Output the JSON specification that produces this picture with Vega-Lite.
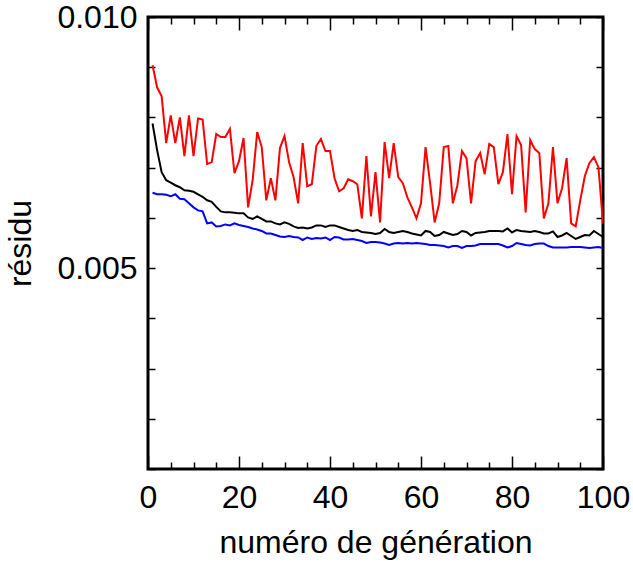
{
  "$schema": "https://vega.github.io/schema/vega-lite/v6.json",
  "width": 455,
  "height": 452,
  "autosize": "none",
  "padding": {"left": 148, "top": 17, "right": 30, "bottom": 99},
  "background": "white",
  "config": {
    "view": {"stroke": "black", "strokeWidth": 3},
    "axis": {
      "labelFont": "Liberation Sans",
      "titleFont": "Liberation Sans",
      "labelFontSize": 32,
      "titleFontSize": 32,
      "titleFontWeight": "normal",
      "labelColor": "black",
      "titleColor": "black",
      "tickColor": "black",
      "tickWidth": 1.5,
      "domain": false,
      "grid": false
    }
  },
  "data": {"values": [
    {"g":1,"r":0.00904,"k":0.00788,"b":0.00650},{"g":2,"r":0.00860,"k":0.00735,"b":0.00647},{"g":3,"r":0.00842,"k":0.00691,"b":0.00647},{"g":4,"r":0.00749,"k":0.00675,"b":0.00646},{"g":5,"r":0.00804,"k":0.00670,"b":0.00643},{"g":6,"r":0.00749,"k":0.00665,"b":0.00647},{"g":7,"r":0.00800,"k":0.00661,"b":0.00638},{"g":8,"r":0.00723,"k":0.00655,"b":0.00637},{"g":9,"r":0.00804,"k":0.00654,"b":0.00629},{"g":10,"r":0.00723,"k":0.00652,"b":0.00621},
    {"g":11,"r":0.00798,"k":0.00647,"b":0.00615},{"g":12,"r":0.00796,"k":0.00642,"b":0.00613},{"g":13,"r":0.00707,"k":0.00635,"b":0.00589},{"g":14,"r":0.00711,"k":0.00632,"b":0.00591},{"g":15,"r":0.00767,"k":0.00622,"b":0.00583},{"g":16,"r":0.00761,"k":0.00613,"b":0.00584},{"g":17,"r":0.00761,"k":0.00611,"b":0.00587},{"g":18,"r":0.00777,"k":0.00611,"b":0.00585},{"g":19,"r":0.00689,"k":0.00610,"b":0.00589},{"g":20,"r":0.00713,"k":0.00609,"b":0.00586},
    {"g":21,"r":0.00759,"k":0.00609,"b":0.00584},{"g":22,"r":0.00621,"k":0.00601,"b":0.00582},{"g":23,"r":0.00675,"k":0.00598,"b":0.00579},{"g":24,"r":0.00771,"k":0.00603,"b":0.00577},{"g":25,"r":0.00741,"k":0.00598,"b":0.00574},{"g":26,"r":0.00635,"k":0.00593,"b":0.00569},{"g":27,"r":0.00679,"k":0.00593,"b":0.00569},{"g":28,"r":0.00635,"k":0.00589,"b":0.00566},{"g":29,"r":0.00739,"k":0.00587,"b":0.00563},{"g":30,"r":0.00763,"k":0.00591,"b":0.00562},
    {"g":31,"r":0.00711,"k":0.00588,"b":0.00564},{"g":32,"r":0.00681,"k":0.00583,"b":0.00562},{"g":33,"r":0.00629,"k":0.00580,"b":0.00561},{"g":34,"r":0.00749,"k":0.00581,"b":0.00556},{"g":35,"r":0.00663,"k":0.00579,"b":0.00561},{"g":36,"r":0.00667,"k":0.00581,"b":0.00558},{"g":37,"r":0.00743,"k":0.00585,"b":0.00560},{"g":38,"r":0.00757,"k":0.00585,"b":0.00559},{"g":39,"r":0.00733,"k":0.00582,"b":0.00561},{"g":40,"r":0.00733,"k":0.00585,"b":0.00556},
    {"g":41,"r":0.00679,"k":0.00585,"b":0.00562},{"g":42,"r":0.00653,"k":0.00582,"b":0.00561},{"g":43,"r":0.00659,"k":0.00579,"b":0.00557},{"g":44,"r":0.00677,"k":0.00576,"b":0.00557},{"g":45,"r":0.00673,"k":0.00574,"b":0.00558},{"g":46,"r":0.00667,"k":0.00576,"b":0.00556},{"g":47,"r":0.00599,"k":0.00572,"b":0.00554},{"g":48,"r":0.00723,"k":0.00571,"b":0.00550},{"g":49,"r":0.00603,"k":0.00570,"b":0.00552},{"g":50,"r":0.00691,"k":0.00568,"b":0.00552},
    {"g":51,"r":0.00591,"k":0.00570,"b":0.00551},{"g":52,"r":0.00751,"k":0.00578,"b":0.00549},{"g":53,"r":0.00679,"k":0.00572,"b":0.00546},{"g":54,"r":0.00749,"k":0.00570,"b":0.00549},{"g":55,"r":0.00681,"k":0.00572,"b":0.00550},{"g":56,"r":0.00669,"k":0.00574,"b":0.00549},{"g":57,"r":0.00641,"k":0.00572,"b":0.00550},{"g":58,"r":0.00621,"k":0.00569,"b":0.00549},{"g":59,"r":0.00599,"k":0.00567,"b":0.00550},{"g":60,"r":0.00629,"k":0.00565,"b":0.00549},
    {"g":61,"r":0.00741,"k":0.00574,"b":0.00548},{"g":62,"r":0.00669,"k":0.00572,"b":0.00546},{"g":63,"r":0.00591,"k":0.00564,"b":0.00546},{"g":64,"r":0.00629,"k":0.00566,"b":0.00545},{"g":65,"r":0.00741,"k":0.00572,"b":0.00544},{"g":66,"r":0.00743,"k":0.00569,"b":0.00541},{"g":67,"r":0.00629,"k":0.00566,"b":0.00544},{"g":68,"r":0.00665,"k":0.00568,"b":0.00544},{"g":69,"r":0.00733,"k":0.00574,"b":0.00540},{"g":70,"r":0.00719,"k":0.00572,"b":0.00544},
    {"g":71,"r":0.00629,"k":0.00565,"b":0.00544},{"g":72,"r":0.00713,"k":0.00570,"b":0.00545},{"g":73,"r":0.00729,"k":0.00571,"b":0.00548},{"g":74,"r":0.00687,"k":0.00572,"b":0.00548},{"g":75,"r":0.00747,"k":0.00574,"b":0.00548},{"g":76,"r":0.00741,"k":0.00574,"b":0.00548},{"g":77,"r":0.00667,"k":0.00574,"b":0.00548},{"g":78,"r":0.00691,"k":0.00573,"b":0.00545},{"g":79,"r":0.00767,"k":0.00579,"b":0.00541},{"g":80,"r":0.00647,"k":0.00571,"b":0.00544},
    {"g":81,"r":0.00763,"k":0.00576,"b":0.00550},{"g":82,"r":0.00745,"k":0.00574,"b":0.00548},{"g":83,"r":0.00611,"k":0.00573,"b":0.00546},{"g":84,"r":0.00755,"k":0.00572,"b":0.00545},{"g":85,"r":0.00737,"k":0.00574,"b":0.00548},{"g":86,"r":0.00729,"k":0.00572,"b":0.00549},{"g":87,"r":0.00599,"k":0.00569,"b":0.00549},{"g":88,"r":0.00629,"k":0.00569,"b":0.00544},{"g":89,"r":0.00741,"k":0.00573,"b":0.00541},{"g":90,"r":0.00629,"k":0.00562,"b":0.00541},
    {"g":91,"r":0.00659,"k":0.00565,"b":0.00541},{"g":92,"r":0.00719,"k":0.00570,"b":0.00541},{"g":93,"r":0.00589,"k":0.00564,"b":0.00542},{"g":94,"r":0.00583,"k":0.00558,"b":0.00542},{"g":95,"r":0.00635,"k":0.00562,"b":0.00542},{"g":96,"r":0.00683,"k":0.00566,"b":0.00541},{"g":97,"r":0.00709,"k":0.00565,"b":0.00540},{"g":98,"r":0.00721,"k":0.00574,"b":0.00541},{"g":99,"r":0.00701,"k":0.00568,"b":0.00542},{"g":100,"r":0.00589,"k":0.00562,"b":0.00540}
  ]},
  "layer": [
    {
      "mark": {"type": "line", "color": "#ff0000", "strokeWidth": 2, "clip": true},
      "encoding": {
        "x": {"field": "g", "type": "quantitative",
          "scale": {"domain": [0, 100], "nice": false, "zero": false},
          "axis": {"orient": "bottom", "values": [0, 20, 40, 60, 80, 100], "ticks": false, "labelPadding": 13, "labelFlush": false, "title": "numéro de génération", "titlePadding": 14}},
        "y": {"field": "r", "type": "quantitative",
          "scale": {"domain": [0.001, 0.01], "nice": false, "zero": false},
          "axis": {"orient": "left", "values": [0.005, 0.01], "format": ".3f", "ticks": false, "labelPadding": 11, "labelFlush": false, "title": "résidu", "titlePadding": 19}}
      }
    },
    {
      "mark": {"type": "line", "color": "#000000", "strokeWidth": 2, "clip": true},
      "encoding": {
        "x": {"field": "g", "type": "quantitative",
          "axis": {"orient": "bottom", "values": [0,5,10,15,20,25,30,35,40,45,50,55,60,65,70,75,80,85,90,95,100], "labels": false, "title": null,
            "tickSize": {"condition": {"test": "datum.value % 20 === 0", "value": -13}, "value": -7}}},
        "y": {"field": "k", "type": "quantitative",
          "axis": {"orient": "left", "values": [0.001,0.002,0.003,0.004,0.005,0.006,0.007,0.008,0.009,0.01], "labels": false, "title": null, "tickSize": -7}}
      }
    },
    {
      "mark": {"type": "line", "color": "#0000ff", "strokeWidth": 2, "clip": true},
      "encoding": {
        "x": {"field": "g", "type": "quantitative",
          "axis": {"orient": "top", "values": [0,5,10,15,20,25,30,35,40,45,50,55,60,65,70,75,80,85,90,95,100], "labels": false, "title": null,
            "tickSize": {"condition": {"test": "datum.value % 20 === 0", "value": -13}, "value": -7}}},
        "y": {"field": "b", "type": "quantitative",
          "axis": {"orient": "right", "values": [0.001,0.002,0.003,0.004,0.005,0.006,0.007,0.008,0.009,0.01], "labels": false, "title": null, "tickSize": -7}}
      }
    }
  ],
  "resolve": {"axis": {"x": "independent", "y": "independent"}}
}
